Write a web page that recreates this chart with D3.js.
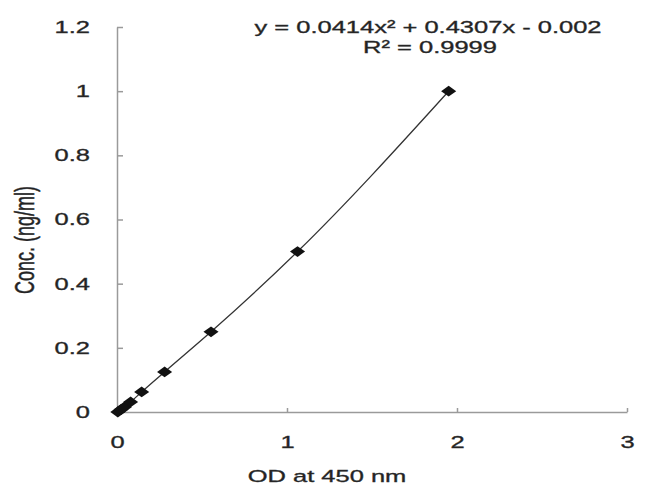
<!DOCTYPE html>
<html>
<head>
<meta charset="utf-8">
<script src="https://cdn.jsdelivr.net/npm/d3@7"></script>
<style>
  body { margin: 0; background: #fff; }
  svg { display: block; font-family: "Liberation Sans", Arial, sans-serif; }
  svg text { stroke: #333; stroke-width: 0.35; }
  .axis path, .axis line { stroke: #9a9a9a; stroke-width: 1.5; }
  .axis text { fill: #222; font-size: 17px; }
</style>
</head>
<body>
<svg id="chart" width="650" height="494"></svg>
<script>
"use strict";

// standard curve: OD at 450 nm vs. concentration
var od = [0.005, 0.024, 0.044, 0.08, 0.145, 0.28, 0.553, 1.062, 1.951],
  conc = [0, 0.0078, 0.0156, 0.03125, 0.0625, 0.125, 0.25, 0.5, 1],
  xTicks = [0, 1, 2, 3],
  xTickLabels = ["0", "1", "2", "3"],
  yTicks = [0, 0.2, 0.4, 0.6, 0.8, 1, 1.2],
  yTickLabels = ["0", "0.2", "0.4", "0.6", "0.8", "1", "1.2"],
  equation = ["y = 0.0414x\u00b2 + 0.4307x - 0.002", "R\u00b2 = 0.9999"]
;

var svg = d3.select("#chart"),
  stretch = 1.5,
  x = d3.scaleLinear().domain([0, 3]).range([117, 627]),
  y = d3.scaleLinear().domain([0, 1.2]).range([412, 27]),
  points = od.map(function(d, i) { return {od: d, conc: conc[i]}; })
;

// y axis
svg.append("g")
  .attr("class", "axis")
  .attr("transform", "translate(" + x(0) + ",0)")
  .call(d3.axisLeft(y).tickValues(yTicks).tickSize(-6).tickSizeOuter(0).tickPadding(27)
    .tickFormat(function(d, i) { return yTickLabels[i]; }))
  .selectAll("text")
    .attr("x", 0)
    .attr("transform", "translate(-27,0) scale(" + stretch + ",1)");

// x axis
svg.append("g")
  .attr("class", "axis")
  .attr("transform", "translate(0," + y(0) + ")")
  .call(d3.axisBottom(x).tickValues(xTicks).tickSize(-4).tickSizeOuter(0).tickPadding(24)
    .tickFormat(function(d, i) { return xTickLabels[i]; }))
  .selectAll("text")
    .attr("transform", "scale(" + stretch + ",1)");

svg.selectAll(".axis .domain").attr("stroke", "#9a9a9a");

// trend line through the points
var line = d3.line()
  .x(function(d) { return x(d.od); })
  .y(function(d) { return y(d.conc); })
  .curve(d3.curveMonotoneX);

svg.append("path")
  .datum(points)
  .attr("d", line)
  .attr("fill", "none")
  .attr("stroke", "#333")
  .attr("stroke-width", 1.3);

// diamond markers
svg.selectAll(".pt")
  .data(points)
  .enter().append("path")
    .attr("class", "pt")
    .attr("d", d3.symbol(d3.symbolSquare, 58)())
    .attr("transform", function(d) {
      return "translate(" + x(d.od) + "," + y(d.conc) + ") scale(1.4,1) rotate(45)";
    })
    .attr("fill", "#111");

// equation
svg.selectAll(".eq")
  .data(equation)
  .enter().append("text")
    .attr("class", "eq")
    .attr("text-anchor", "middle")
    .attr("font-size", 17)
    .attr("fill", "#222")
    .attr("transform", function(d, i) {
      return "translate(" + (i ? 430 : 428) + "," + (i ? 53 : 33) + ") scale(" + stretch + ",1)";
    })
    .text(function(d) { return d; });

// axis titles
svg.append("text")
  .attr("text-anchor", "middle")
  .attr("font-size", 17)
  .attr("fill", "#222")
  .attr("transform", "translate(327,482) scale(" + stretch + ",1)")
  .text("OD at 450 nm");

svg.append("text")
  .attr("text-anchor", "middle")
  .attr("font-size", 18)
  .attr("fill", "#222")
  .attr("dy", "0.35em")
  .attr("transform", "translate(25,240) rotate(-90) scale(1," + stretch + ")")
  .text("Conc. (ng/ml)");
</script>
</body>
</html>
